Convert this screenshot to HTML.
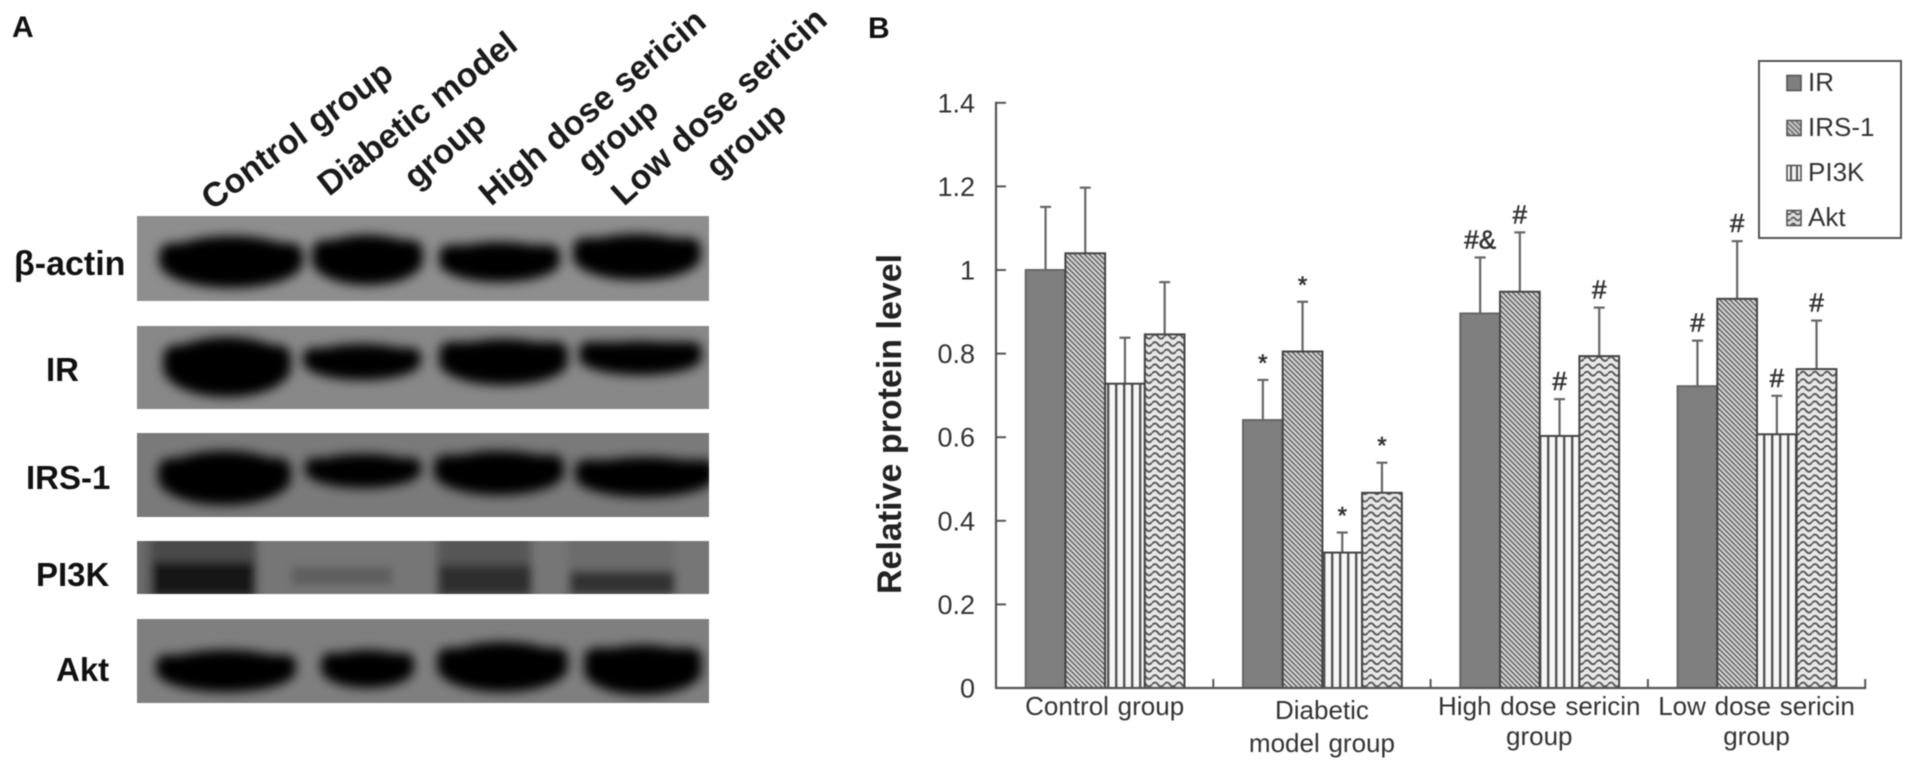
<!DOCTYPE html>
<html lang="en">
<head>
<meta charset="utf-8">
<title>Western blot and relative protein level chart</title>
<style>
html,body{margin:0;padding:0;background:#fff;width:1913px;height:770px;overflow:hidden}
svg{display:block;filter:blur(.6px)}
text{font-family:"Liberation Sans",sans-serif}
</style>
</head>
<body>
<svg id="figure" xmlns="http://www.w3.org/2000/svg" width="1913" height="770" viewBox="0 0 1913 770">
<defs>
<filter id="bl" x="-20%" y="-40%" width="140%" height="180%"><feGaussianBlur stdDeviation="5.5"/></filter>
<filter id="bl2" x="-20%" y="-40%" width="140%" height="180%"><feGaussianBlur stdDeviation="4.5"/></filter>
<pattern id="p-irs" width="5" height="5" patternUnits="userSpaceOnUse"><rect width="5" height="5" fill="#d2d2d2"/><path d="M0 0L5 5M-1 4L1 6M4 -1L6 1" stroke="#555" stroke-width="1.3"/></pattern>
<pattern id="p-pi3k" width="8" height="8" patternUnits="userSpaceOnUse"><rect width="8" height="8" fill="#f6f6f6"/><rect x="3" width="2.4" height="8" fill="#555"/></pattern>
<pattern id="p-akt" width="12" height="7.4" patternUnits="userSpaceOnUse"><rect width="12" height="7.4" fill="#e8e8e8"/><path d="M0 3.7Q3 -.3 6 3.7T12 3.7" fill="none" stroke="#555" stroke-width="1.9"/></pattern>
<pattern id="p-leg-irs" width="5" height="5" patternUnits="userSpaceOnUse"><rect width="5" height="5" fill="#c4c4c4"/><path d="M0 0L5 5M-1 4L1 6M4 -1L6 1" stroke="#666" stroke-width="1.3"/></pattern>
<pattern id="p-leg-pi3k" width="6" height="6" patternUnits="userSpaceOnUse"><rect width="6" height="6" fill="#f2f2f2"/><rect x="2" width="2" height="6" fill="#555"/></pattern>
<pattern id="p-leg-akt" width="9" height="6" patternUnits="userSpaceOnUse"><rect width="9" height="6" fill="#ddd"/><path d="M0 3Q2.2 0 4.5 3T9 3" fill="none" stroke="#555" stroke-width="1.7"/></pattern>
</defs>

<rect width="1913" height="770" fill="#fff"/>

<g id="panel-a">
<text x="12" y="37" font-size="30" font-weight="bold" fill="#111">A</text>

<g font-size="34" font-weight="bold" fill="#1a1a1a">
<text transform="translate(212 211) rotate(-36)">Control group</text>
<text transform="translate(329 197) rotate(-38)">Diabetic model</text>
<text transform="translate(416 190) rotate(-41)">group</text>
<text transform="translate(491 207) rotate(-40)">High dose sericin</text>
<text transform="translate(589 174) rotate(-40)" font-size="33">group</text>
<text transform="translate(624 207) rotate(-42)">Low dose sericin</text>
<text transform="translate(718 179) rotate(-41)" font-size="33">group</text>
</g>

<g font-size="33" font-weight="bold" fill="#111">
<text x="14" y="275" font-size="34">β-actin</text>
<text x="46" y="381">IR</text>
<text x="26" y="489">IRS-1</text>
<text x="36" y="586">PI3K</text>
<text x="56" y="681">Akt</text>
</g>

<clipPath id="c1"><rect x="137" y="216" width="572" height="85"/></clipPath>
<clipPath id="c2"><rect x="137" y="326" width="572" height="83"/></clipPath>
<clipPath id="c3"><rect x="137" y="433" width="572" height="84"/></clipPath>
<clipPath id="c4"><rect x="137" y="541" width="572" height="53"/></clipPath>
<clipPath id="c5"><rect x="137" y="619" width="572" height="84"/></clipPath>

<g clip-path="url(#c1)">
<rect x="137" y="216" width="572" height="85" fill="#8e8e8e"/>
<g filter="url(#bl)" fill="#050505">
<rect x="159" y="243" width="144" height="22" rx="14"/><ellipse cx="231" cy="262" rx="72" ry="26"/>
<rect x="312" y="240" width="111" height="22" rx="14"/><ellipse cx="367.5" cy="260" rx="55.5" ry="25"/>
<rect x="439" y="245" width="121" height="18" rx="12"/><ellipse cx="499.5" cy="262" rx="60.5" ry="20"/>
<rect x="573" y="238" width="128" height="20" rx="12"/><ellipse cx="637" cy="257" rx="64" ry="23"/>
</g></g>

<g clip-path="url(#c2)">
<rect x="137" y="326" width="572" height="83" fill="#888"/>
<g filter="url(#bl)" fill="#050505">
<rect x="163" y="345" width="128" height="24" rx="14"/><ellipse cx="227" cy="367" rx="64" ry="30"/>
<rect x="303" y="348" width="118" height="15" rx="10"/><ellipse cx="362" cy="362" rx="59" ry="18"/>
<rect x="439" y="342" width="129" height="20" rx="12"/><ellipse cx="503.5" cy="362" rx="64.5" ry="23"/>
<rect x="579" y="342" width="123" height="16" rx="10"/><ellipse cx="640.5" cy="358" rx="61.5" ry="17"/>
</g></g>

<g clip-path="url(#c3)">
<rect x="137" y="433" width="572" height="84" fill="#7a7a7a"/>
<g filter="url(#bl)" fill="#050505">
<rect x="158" y="458" width="133" height="22" rx="14"/><ellipse cx="224.5" cy="478" rx="66.5" ry="27"/>
<rect x="305" y="458" width="116" height="14" rx="10"/><ellipse cx="363" cy="471" rx="58" ry="17"/>
<rect x="434" y="455" width="130" height="19" rx="12"/><ellipse cx="499" cy="473" rx="65" ry="22"/>
<rect x="575" y="460" width="140" height="17" rx="10"/><ellipse cx="645" cy="477" rx="70" ry="20"/>
</g></g>

<g clip-path="url(#c4)">
<rect x="137" y="541" width="572" height="53" fill="#767676"/>
<g filter="url(#bl2)">
<rect x="137" y="535" width="14" height="65" fill="#686868"/>
<rect x="150" y="535" width="106" height="65" fill="#484848"/>
<rect x="152" y="562" width="102" height="34" fill="#161616"/>
<rect x="292" y="567" width="100" height="18" fill="#5e5e5e"/>
<rect x="437" y="535" width="94" height="65" fill="#565656"/>
<rect x="439" y="565" width="92" height="30" fill="#2f2f2f"/>
<rect x="568" y="535" width="106" height="65" fill="#6c6c6c"/>
<rect x="570" y="571" width="104" height="24" fill="#333"/>
</g></g>

<g clip-path="url(#c5)">
<rect x="137" y="619" width="572" height="84" fill="#7f7f7f"/>
<g filter="url(#bl)" fill="#050505">
<rect x="156" y="655" width="140" height="17" rx="10"/><ellipse cx="226" cy="671" rx="70" ry="21"/>
<rect x="321" y="653" width="93" height="16" rx="10"/><ellipse cx="367.5" cy="669" rx="46.5" ry="19"/>
<rect x="437" y="648" width="131" height="20" rx="12"/><ellipse cx="502.5" cy="667" rx="65.5" ry="25"/>
<rect x="584" y="648" width="118" height="21" rx="12"/><ellipse cx="643" cy="670" rx="59" ry="25"/>
</g></g>
</g>

<text x="868" y="38" font-size="30" font-weight="bold" fill="#111">B</text>
<g id="chart"></g>
</svg>

<script>
const categories = [["Control group"], ["Diabetic", "model group"], ["High dose sericin", "group"], ["Low dose sericin", "group"]];
const seriesNames = ["IR", "IRS-1", "PI3K", "Akt"];
const irValues = [1.0, 0.641, 0.896, 0.722];
const irs1Values = [1.04, 0.805, 0.948, 0.931];
const pi3kValues = [0.728, 0.324, 0.603, 0.607];
const aktValues = [0.846, 0.467, 0.794, 0.763];
const irErrorTops = [1.151, 0.737, 1.03, 0.831];
const irs1ErrorTops = [1.197, 0.924, 1.09, 1.069];
const pi3kErrorTops = [0.838, 0.372, 0.691, 0.699];
const aktErrorTops = [0.971, 0.539, 0.91, 0.879];
const irMarks = ["", "*", "#&", "#"];
const irs1Marks = ["", "*", "#", "#"];
const pi3kMarks = ["", "*", "#", "#"];
const aktMarks = ["", "*", "#", "#"];
const yTicks = [0, 0.2, 0.4, 0.6, 0.8, 1, 1.2, 1.4];

const allValues = [irValues, irs1Values, pi3kValues, aktValues];
const allErrors = [irErrorTops, irs1ErrorTops, pi3kErrorTops, aktErrorTops];
const allMarks = [irMarks, irs1Marks, pi3kMarks, aktMarks];
const seriesFills = ["#7f7f7f", "url(#p-irs)", "url(#p-pi3k)", "url(#p-akt)"];
const legendFills = ["#7f7f7f", "url(#p-leg-irs)", "url(#p-leg-pi3k)", "url(#p-leg-akt)"];

const NS = "http://www.w3.org/2000/svg";
const chart = document.getElementById("chart");
const AXIS_X = 996, BASE_Y = 688, PX_PER_UNIT = 418, GROUP_W = 217.3, GROUP_PAD = 29.7, BAR_W = 39.7;
const INK = "#555";

function yScale(v) { return BASE_Y - v * PX_PER_UNIT; }
function groupX(g) { return AXIS_X + g * GROUP_W; }
function barX(g, s) { return groupX(g) + GROUP_PAD + s * BAR_W; }

function make(tag, attrs, text) {
  const el = document.createElementNS(NS, tag);
  for (const k in attrs) el.setAttribute(k, attrs[k]);
  if (text !== undefined) el.textContent = text;
  chart.appendChild(el);
  return el;
}

/* bars and error bars */
allValues.forEach(function (vals, s) {
  vals.forEach(function (v, g) {
    const x = barX(g, s), cx = x + BAR_W / 2;
    const stem = make("line", { x1: cx, x2: cx, y1: yScale(allErrors[s][g]), y2: yScale(v), stroke: "#666", "stroke-width": 2.2 });
    
    
    const cap = make("line", { x1: cx - 5.5, x2: cx + 5.5, y1: yScale(allErrors[s][g]), y2: yScale(allErrors[s][g]), stroke: "#666", "stroke-width": 2.2 });
    
    
    const bar = make("rect", { x: x, y: yScale(v), width: BAR_W, height: BASE_Y - yScale(v), fill: seriesFills[s], stroke: s === 0 ? "#666" : "#444", "stroke-width": 2 });
    
    
    if (allMarks[s][g]) {
      const mark = make("text", { x: cx, y: yScale(allErrors[s][g]) - 9, "text-anchor": "middle", "font-size": allMarks[s][g] === "*" ? 24 : 26, fill: "#333", stroke: "#333", "stroke-width": 0.6 }, allMarks[s][g]);
      
      
    }
  });
});

/* y axis */
const yAxis = make("line", { x1: AXIS_X, x2: AXIS_X, y1: yScale(1.4) - 1, y2: BASE_Y + 1, stroke: INK, "stroke-width": 2.2 });


yTicks.forEach(function (t) {
  const tick = make("line", { x1: AXIS_X, x2: AXIS_X + 10, y1: yScale(t), y2: yScale(t), stroke: INK, "stroke-width": 2 });
  
  
  const label = make("text", { x: 975, y: yScale(t) + 9.5, "text-anchor": "end", "font-size": 27, fill: "#333" }, String(t));
  
  
});

/* x axis */
const xAxis = make("line", { x1: AXIS_X, x2: groupX(categories.length) + 1, y1: BASE_Y, y2: BASE_Y, stroke: INK, "stroke-width": 2.2 });


categories.forEach(function (lines, g) {
  const tick = make("line", { x1: groupX(g + 1), x2: groupX(g + 1), y1: BASE_Y, y2: BASE_Y - 9, stroke: INK, "stroke-width": 2 });
  
  
  const cx = groupX(g) + GROUP_W / 2;
  lines.forEach(function (line, i) {
    const lineY = lines.length === 1 ? 715 : (g === 1 ? 719 + i * 33 : 715 + i * 30);
    const label = make("text", { x: cx, y: lineY, "text-anchor": "middle", "font-size": 26, "word-spacing": 1.5, fill: "#333" }, line);
    
    
  });
});

/* y axis title */
const yTitle = make("text", { transform: "translate(901 594) rotate(-90)", "font-size": 34, "font-weight": "bold", fill: "#222" }, "Relative protein level");



/* legend */
const legendBox = make("rect", { x: 1759, y: 61, width: 142, height: 177, fill: "#fff", stroke: "#555", "stroke-width": 2 });


seriesNames.forEach(function (name, i) {
  const top = 75.5 + i * 45;
  const swatch = make("rect", { x: 1787, y: top, width: 14, height: 15, fill: legendFills[i], stroke: "#555", "stroke-width": 1.6 });
  
  
  const label = make("text", { x: 1808, y: top + 15.5, "font-size": 26, fill: "#333" }, name);
  
  
});
</script>
</body>
</html>
